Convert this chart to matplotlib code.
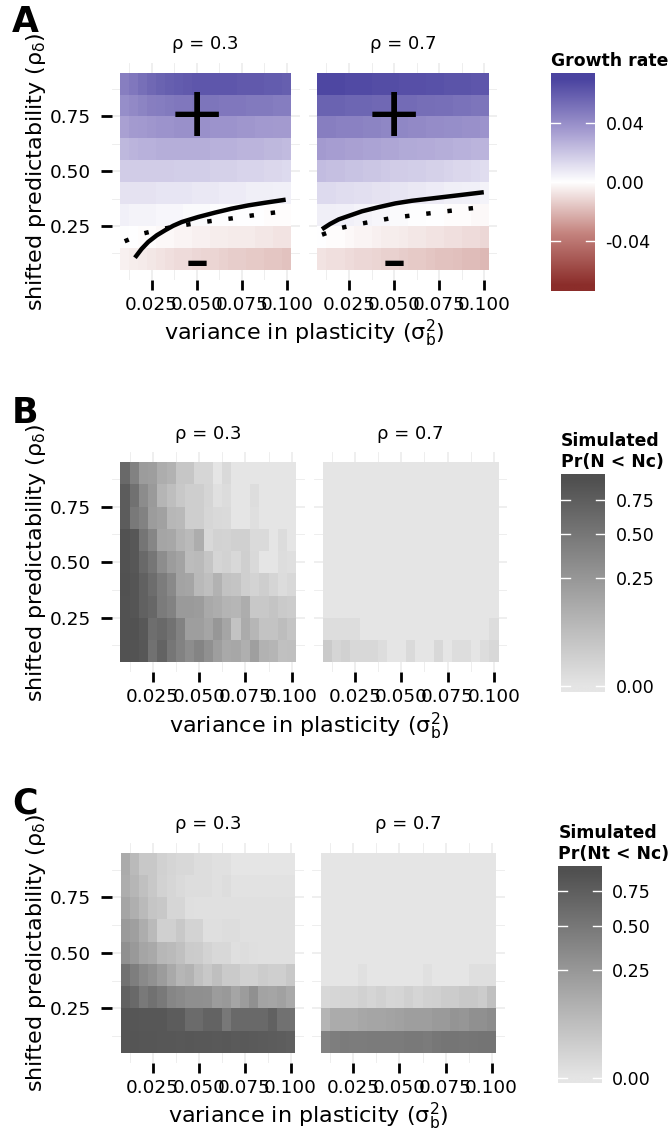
import numpy as np
import matplotlib
matplotlib.use("Agg")
import matplotlib.pyplot as plt
from matplotlib.colors import LinearSegmentedColormap, Normalize, PowerNorm

plt.rcParams["mathtext.default"] = "regular"

# grid of simulated parameters
sigma_b2 = [0.010, 0.015, 0.020, 0.025, 0.030, 0.035, 0.040, 0.045, 0.050, 0.055,
            0.060, 0.065, 0.070, 0.075, 0.080, 0.085, 0.090, 0.095, 0.100]
rho_delta = [0.1, 0.2, 0.3, 0.4, 0.5, 0.6, 0.7, 0.8, 0.9]
rho_values = [0.3, 0.7]

# growth rate, rows are rho_delta = 0.1 ... 0.9
growth_rho03 = [
    [-0.004, -0.005, -0.006, -0.007, -0.008, -0.009, -0.010, -0.010, -0.011, -0.012, -0.012, -0.013, -0.014, -0.014, -0.015, -0.015, -0.016, -0.016, -0.017],
    [0.001, 0.000, -0.001, -0.001, -0.002, -0.002, -0.003, -0.003, -0.004, -0.004, -0.005, -0.005, -0.006, -0.006, -0.006, -0.007, -0.007, -0.008, -0.008],
    [0.005, 0.004, 0.004, 0.004, 0.003, 0.003, 0.003, 0.002, 0.002, 0.002, 0.001, 0.001, 0.001, 0.000, 0.000, 0.000, -0.001, -0.001, -0.001],
    [0.010, 0.010, 0.010, 0.010, 0.009, 0.009, 0.009, 0.009, 0.008, 0.008, 0.008, 0.007, 0.007, 0.007, 0.006, 0.006, 0.006, 0.005, 0.005],
    [0.018, 0.018, 0.018, 0.018, 0.018, 0.018, 0.017, 0.017, 0.017, 0.017, 0.016, 0.016, 0.016, 0.015, 0.015, 0.015, 0.014, 0.014, 0.013],
    [0.025, 0.026, 0.027, 0.027, 0.028, 0.028, 0.028, 0.028, 0.028, 0.028, 0.027, 0.027, 0.027, 0.026, 0.026, 0.026, 0.025, 0.025, 0.024],
    [0.033, 0.035, 0.036, 0.037, 0.038, 0.038, 0.039, 0.039, 0.039, 0.039, 0.038, 0.038, 0.038, 0.037, 0.037, 0.036, 0.036, 0.035, 0.035],
    [0.040, 0.042, 0.044, 0.046, 0.047, 0.048, 0.049, 0.049, 0.050, 0.050, 0.050, 0.049, 0.049, 0.049, 0.048, 0.048, 0.048, 0.047, 0.047],
    [0.046, 0.049, 0.052, 0.055, 0.057, 0.059, 0.060, 0.061, 0.062, 0.062, 0.062, 0.062, 0.062, 0.061, 0.061, 0.061, 0.060, 0.060, 0.059],
]
growth_rho07 = [
    [-0.008, -0.009, -0.009, -0.010, -0.011, -0.011, -0.012, -0.013, -0.013, -0.014, -0.015, -0.015, -0.016, -0.017, -0.017, -0.018, -0.019, -0.019, -0.020],
    [0.000, -0.001, -0.001, -0.002, -0.003, -0.003, -0.004, -0.005, -0.005, -0.006, -0.007, -0.007, -0.008, -0.008, -0.009, -0.009, -0.010, -0.010, -0.011],
    [0.006, 0.006, 0.005, 0.005, 0.004, 0.004, 0.003, 0.003, 0.002, 0.002, 0.001, 0.001, 0.000, 0.000, -0.001, -0.001, -0.001, -0.002, -0.002],
    [0.013, 0.013, 0.012, 0.012, 0.011, 0.011, 0.010, 0.010, 0.009, 0.009, 0.008, 0.008, 0.007, 0.007, 0.006, 0.006, 0.005, 0.005, 0.004],
    [0.023, 0.022, 0.022, 0.021, 0.021, 0.020, 0.020, 0.019, 0.018, 0.018, 0.017, 0.017, 0.016, 0.016, 0.015, 0.014, 0.014, 0.013, 0.012],
    [0.035, 0.034, 0.034, 0.033, 0.033, 0.032, 0.032, 0.031, 0.031, 0.030, 0.030, 0.029, 0.029, 0.028, 0.028, 0.027, 0.027, 0.026, 0.026],
    [0.046, 0.046, 0.045, 0.045, 0.045, 0.044, 0.044, 0.043, 0.043, 0.043, 0.042, 0.042, 0.041, 0.041, 0.040, 0.040, 0.039, 0.039, 0.038],
    [0.057, 0.057, 0.057, 0.056, 0.056, 0.056, 0.055, 0.055, 0.054, 0.054, 0.054, 0.053, 0.053, 0.052, 0.052, 0.051, 0.051, 0.050, 0.050],
    [0.068, 0.068, 0.068, 0.067, 0.067, 0.067, 0.066, 0.066, 0.066, 0.065, 0.065, 0.065, 0.064, 0.064, 0.063, 0.063, 0.063, 0.062, 0.062],
]

# zero-growth boundary (solid) and its approximation (dotted)
exact_x_rho03 = [0.0157, 0.0194, 0.0231, 0.0278, 0.0324, 0.0370, 0.0417, 0.0509, 0.0602, 0.0694, 0.0787, 0.0880, 0.0994]
exact_y_rho03 = [0.105, 0.145, 0.177, 0.207, 0.230, 0.251, 0.268, 0.291, 0.311, 0.329, 0.344, 0.356, 0.370]
exact_x_rho07 = [0.0100, 0.0145, 0.0193, 0.0322, 0.0415, 0.0507, 0.0599, 0.0692, 0.0784, 0.0876, 0.0997]
exact_y_rho07 = [0.235, 0.259, 0.280, 0.317, 0.336, 0.353, 0.365, 0.374, 0.383, 0.392, 0.404]
approx_x = [0.01, 0.02, 0.03, 0.04, 0.05, 0.06, 0.07, 0.08, 0.09, 0.10]
approx_y_rho03 = [0.180, 0.215, 0.235, 0.250, 0.263, 0.275, 0.285, 0.297, 0.308, 0.318]
approx_y_rho07 = [0.210, 0.240, 0.258, 0.273, 0.288, 0.298, 0.308, 0.318, 0.328, 0.337]

# simulated Pr(N < Nc)
prN_rho03 = [
    [0.89, 0.88, 0.83, 0.56, 0.70, 0.51, 0.41, 0.32, 0.39, 0.30, 0.21, 0.15, 0.16, 0.12, 0.20, 0.11, 0.095, 0.058, 0.06],
    [0.89, 0.89, 0.82, 0.58, 0.64, 0.54, 0.41, 0.21, 0.21, 0.17, 0.255, 0.17, 0.05, 0.14, 0.09, 0.05, 0.05, 0.068, 0.047],
    [0.89, 0.86, 0.72, 0.66, 0.46, 0.41, 0.23, 0.23, 0.22, 0.15, 0.13, 0.10, 0.09, 0.13, 0.036, 0.036, 0.047, 0.031, 0.025],
    [0.91, 0.86, 0.72, 0.59, 0.45, 0.35, 0.18, 0.17, 0.08, 0.06, 0.11, 0.052, 0.047, 0.02, 0.014, 0.022, 0.011, 0.004, 0.007],
    [0.89, 0.83, 0.64, 0.51, 0.32, 0.22, 0.18, 0.07, 0.078, 0.043, 0.011, 0.015, 0.007, 0.02, 0.006, 0.0, 0.0, 0.003, 0.002],
    [0.89, 0.83, 0.52, 0.37, 0.17, 0.16, 0.10, 0.077, 0.13, 0.008, 0.016, 0.013, 0.019, 0.019, 0.005, 0.005, 0.0, 0.004, 0.0],
    [0.77, 0.48, 0.41, 0.22, 0.19, 0.088, 0.08, 0.023, 0.023, 0.009, 0.006, 0.005, 0.0, 0.0, 0.002, 0.0, 0.0, 0.0, 0.0],
    [0.77, 0.56, 0.33, 0.23, 0.096, 0.064, 0.036, 0.023, 0.022, 0.011, 0.001, 0.004, 0.0, 0.0, 0.003, 0.0, 0.0, 0.0, 0.0],
    [0.64, 0.41, 0.22, 0.21, 0.13, 0.11, 0.04, 0.04, 0.009, 0.009, 0.0, 0.006, 0.0, 0.0, 0.0, 0.0, 0.0, 0.0, 0.0],
]
prN_rho07 = [
    [0.03, 0.011, 0.017, 0.007, 0.007, 0.007, 0.003, 0.0, 0.0, 0.005, 0.0, 0.0, 0.008, 0.0, 0.003, 0.003, 0.0, 0.003, 0.007],
    [0.003, 0.003, 0.003, 0.003, 0.0, 0.0, 0.0, 0.0, 0.0, 0.0, 0.0, 0.0, 0.0, 0.0, 0.0, 0.0, 0.0, 0.0, 0.003],
    [0.0, 0.0, 0.0, 0.0, 0.0, 0.0, 0.0, 0.0, 0.0, 0.0, 0.0, 0.0, 0.0, 0.0, 0.0, 0.0, 0.0, 0.0, 0.0],
    [0.0, 0.0, 0.0, 0.0, 0.0, 0.0, 0.0, 0.0, 0.0, 0.0, 0.0, 0.0, 0.0, 0.0, 0.0, 0.0, 0.0, 0.0, 0.0],
    [0.0, 0.0, 0.0, 0.0, 0.0, 0.0, 0.0, 0.0, 0.0, 0.0, 0.0, 0.0, 0.0, 0.0, 0.0, 0.0, 0.0, 0.0, 0.0],
    [0.0, 0.0, 0.0, 0.0, 0.0, 0.0, 0.0, 0.0, 0.0, 0.0, 0.0, 0.0, 0.0, 0.0, 0.0, 0.0, 0.0, 0.0, 0.0],
    [0.0, 0.0, 0.0, 0.0, 0.0, 0.0, 0.0, 0.0, 0.0, 0.0, 0.0, 0.0, 0.0, 0.0, 0.0, 0.0, 0.0, 0.0, 0.0],
    [0.0, 0.0, 0.0, 0.0, 0.0, 0.0, 0.0, 0.0, 0.0, 0.0, 0.0, 0.0, 0.0, 0.0, 0.0, 0.0, 0.0, 0.0, 0.0],
    [0.0, 0.0, 0.0, 0.0, 0.0, 0.0, 0.0, 0.0, 0.0, 0.0, 0.0, 0.0, 0.0, 0.0, 0.0, 0.0, 0.0, 0.0, 0.0],
]

# simulated Pr(Nt < Nc)
prNt_rho03 = [
    [0.85, 0.85, 0.84, 0.84, 0.83, 0.83, 0.82, 0.83, 0.82, 0.82, 0.81, 0.82, 0.80, 0.81, 0.80, 0.79, 0.78, 0.76, 0.74],
    [0.86, 0.84, 0.83, 0.83, 0.83, 0.77, 0.77, 0.61, 0.61, 0.70, 0.70, 0.49, 0.64, 0.64, 0.64, 0.64, 0.72, 0.56, 0.56],
    [0.72, 0.64, 0.48, 0.56, 0.48, 0.37, 0.34, 0.31, 0.31, 0.30, 0.22, 0.24, 0.17, 0.22, 0.30, 0.18, 0.17, 0.19, 0.15],
    [0.56, 0.44, 0.34, 0.29, 0.22, 0.15, 0.09, 0.11, 0.056, 0.034, 0.06, 0.03, 0.03, 0.017, 0.017, 0.025, 0.02, 0.02, 0.034],
    [0.30, 0.24, 0.17, 0.15, 0.088, 0.077, 0.058, 0.028, 0.025, 0.013, 0.007, 0.007, 0.002, 0.003, 0.002, 0.001, 0.001, 0.001, 0.001],
    [0.23, 0.20, 0.13, 0.077, 0.019, 0.019, 0.034, 0.014, 0.013, 0.002, 0.002, 0.003, 0.003, 0.001, 0.001, 0.001, 0.001, 0.001, 0.001],
    [0.17, 0.12, 0.077, 0.043, 0.034, 0.01, 0.01, 0.002, 0.001, 0.001, 0.001, 0.001, 0.001, 0.001, 0.001, 0.001, 0.001, 0.001, 0.001],
    [0.13, 0.09, 0.056, 0.036, 0.015, 0.009, 0.005, 0.003, 0.003, 0.003, 0.001, 0.003, 0.0005, 0.0005, 0.0005, 0.0005, 0.0005, 0.0005, 0.0005],
    [0.14, 0.077, 0.034, 0.034, 0.017, 0.011, 0.007, 0.007, 0.003, 0.003, 0.001, 0.001, 0.0, 0.0, 0.0, 0.0, 0.0, 0.0, 0.0],
]
prNt_rho07 = [
    [0.41, 0.44, 0.46, 0.45, 0.45, 0.46, 0.47, 0.47, 0.47, 0.48, 0.48, 0.47, 0.50, 0.52, 0.52, 0.51, 0.52, 0.53, 0.53],
    [0.095, 0.14, 0.14, 0.14, 0.16, 0.17, 0.17, 0.18, 0.19, 0.21, 0.21, 0.21, 0.23, 0.23, 0.27, 0.26, 0.30, 0.30, 0.33],
    [0.007, 0.009, 0.011, 0.011, 0.017, 0.011, 0.017, 0.009, 0.011, 0.019, 0.011, 0.017, 0.019, 0.025, 0.025, 0.034, 0.034, 0.025, 0.056],
    [0.0, 0.0, 0.0, 0.0, 0.001, 0.0, 0.0, 0.0, 0.0, 0.0, 0.0, 0.001, 0.0, 0.0, 0.0, 0.0, 0.002, 0.002, 0.002],
    [0.0, 0.0, 0.0, 0.0, 0.0, 0.0, 0.0, 0.0, 0.0, 0.0, 0.0, 0.0, 0.0, 0.0, 0.0, 0.0, 0.0, 0.0, 0.0],
    [0.0, 0.0, 0.0, 0.0, 0.0, 0.0, 0.0, 0.0, 0.0, 0.0, 0.0, 0.0, 0.0, 0.0, 0.0, 0.0, 0.0, 0.0, 0.0],
    [0.0, 0.0, 0.0, 0.0, 0.0, 0.0, 0.0, 0.0, 0.0, 0.0, 0.0, 0.0, 0.0, 0.0, 0.0, 0.0, 0.0, 0.0, 0.0],
    [0.0, 0.0, 0.0, 0.0, 0.0, 0.0, 0.0, 0.0, 0.0, 0.0, 0.0, 0.0, 0.0, 0.0, 0.0, 0.0, 0.0, 0.0, 0.0],
    [0.0, 0.0, 0.0, 0.0, 0.0, 0.0, 0.0, 0.0, 0.0, 0.0, 0.0, 0.0, 0.0, 0.0, 0.0, 0.0, 0.0, 0.0, 0.0],
]

growth_ticks = [-0.04, 0.0, 0.04]
prob_ticks = [0.0, 0.25, 0.5, 0.75]

# colour scales
growth_cmap = LinearSegmentedColormap.from_list(
    "growth", [(0.0, "#8B2D2A"), (0.25, "#C4837E"), (0.5, "#FFFFFF"),
               (0.75, "#A49BD0"), (1.0, "#4A43A0")])
growth_norm = Normalize(vmin=-0.07, vmax=0.07)
grey_cmap = LinearSegmentedColormap.from_list("greys", ["#E5E5E5", "#505050"])
prob_norm = PowerNorm(gamma=0.5, vmin=0.0, vmax=0.92)

W, H = 672, 1139
fig = plt.figure(figsize=(W / 100, H / 100), dpi=100)


def px_axes(x0, x1, y0, y1):
    return fig.add_axes([x0 / W, 1 - y1 / H, (x1 - x0) / W, (y1 - y0) / H])


def heat_panel(ax, z, cmap, norm, first):
    ax.pcolormesh(sigma_b2, rho_delta, np.array(z), cmap=cmap, norm=norm,
                  shading="nearest", zorder=1)
    ax.set_xlim(0.00275, 0.10725)
    ax.set_ylim(0.005, 0.995)
    ax.set_xticks([0.025, 0.05, 0.075, 0.1])
    ax.set_xticklabels(["0.025", "0.050", "0.075", "0.100"])
    ax.set_xticks([0.0125, 0.0375, 0.0625, 0.0875], minor=True)
    ax.set_yticks([0.25, 0.5, 0.75])
    ax.set_yticklabels(["0.25", "0.50", "0.75"])
    ax.set_yticks([0.125, 0.375, 0.625, 0.875], minor=True)
    ax.set_axisbelow(True)
    ax.grid(which="major", color="#EBEBEB", lw=1.1)
    ax.grid(which="minor", color="#EBEBEB", lw=0.6)
    for s in ax.spines.values():
        s.set_visible(False)
    ax.tick_params(which="minor", length=0)
    ax.tick_params(axis="x", which="major", length=7, width=2, pad=4.5,
                   labelsize=13.3, color="black")
    if first:
        ax.tick_params(axis="y", which="major", length=8, width=2, pad=7,
                       labelsize=13.3, color="black")
    else:
        ax.tick_params(axis="y", which="major", length=0, labelleft=False)


def color_bar(cax, cmap, norm, ticks, labels):
    f = np.linspace(0, 1, 400)
    t = np.clip((f - 0.025) / 0.95, 0, 1)
    cax.imshow(t[:, None], aspect="auto", cmap=cmap, vmin=0, vmax=1,
               origin="lower", extent=[0, 1, 0, 1])
    pos = 0.025 + 0.95 * np.asarray(norm(np.array(ticks)))
    for p in pos:
        cax.plot([0, 0.2], [p, p], color="white", lw=1)
        cax.plot([0.8, 1], [p, p], color="white", lw=1)
    cax.set_xlim(0, 1)
    cax.set_ylim(0, 1)
    cax.set_xticks([])
    cax.set_yticks(pos)
    cax.set_yticklabels(labels)
    cax.yaxis.set_ticks_position("right")
    cax.tick_params(axis="y", length=0, pad=7.5, labelsize=12.6)
    for s in cax.spines.values():
        s.set_visible(False)


ylabel = r"shifted predictability ($\rho_\delta$)"
xlabel = r"variance in plasticity ($\sigma^2_b$)"

panels = [
    dict(letter="A", top=62.8, bottom=279.6, facets=[(111.6, 299.8), (308.9, 497.4)],
         data=[growth_rho03, growth_rho07], cmap=growth_cmap, norm=growth_norm,
         bar=(551, 595, 72.7, 290.7), title="Growth rate",
         ticks=growth_ticks, ticklabels=["-0.04", "0.00", "0.04"], letter_y=5),
    dict(letter="B", top=452.3, bottom=672.1, facets=[(111.5, 305.1), (313.8, 507.4)],
         data=[prN_rho03, prN_rho07], cmap=grey_cmap, norm=prob_norm,
         bar=(561, 605, 474, 691.7), title="Simulated\nPr(N < Nc)",
         ticks=prob_ticks, ticklabels=["0.00", "0.25", "0.50", "0.75"], letter_y=396),
    dict(letter="C", top=842.9, bottom=1062.7, facets=[(111.8, 304.0), (312.4, 505.0)],
         data=[prNt_rho03, prNt_rho07], cmap=grey_cmap, norm=prob_norm,
         bar=(558.3, 601.7, 866, 1083.3), title="Simulated\nPr(Nt < Nc)",
         ticks=prob_ticks, ticklabels=["0.00", "0.25", "0.50", "0.75"], letter_y=787),
]

for k, p in enumerate(panels):
    axes = []
    for j, (x0, x1) in enumerate(p["facets"]):
        ax = px_axes(x0, x1, p["top"], p["bottom"])
        heat_panel(ax, p["data"][j], p["cmap"], p["norm"], j == 0)
        fig.text((x0 + x1) / 2 / W, 1 - (p["top"] - 13.5) / H,
                 "ρ = %.1f" % rho_values[j], ha="center", va="baseline", fontsize=13)
        axes.append(ax)

    if k == 0:
        exact = [(exact_x_rho03, exact_y_rho03), (exact_x_rho07, exact_y_rho07)]
        approx = [approx_y_rho03, approx_y_rho07]
        for ax, (ex, ey), ay in zip(axes, exact, approx):
            ax.plot(ex, ey, color="black", lw=3.2, solid_capstyle="butt",
                    solid_joinstyle="round", zorder=3)
            ax.plot(approx_x, ay, color="black", lw=3.2, linestyle=(0, (1, 3.8)),
                    dash_capstyle="butt", zorder=3)
            ax.text(0.05, 0.75, "+", ha="center", va="center", fontsize=50, zorder=4)
            ax.text(0.05, 0.085, "-", ha="center", va="center", fontsize=50, zorder=4)

    mid = (p["top"] + p["bottom"]) / 2
    fig.text(36 / W, 1 - mid / H, ylabel, rotation=90, ha="center", va="center",
             fontsize=16)
    xc = (p["facets"][0][0] + p["facets"][1][1]) / 2
    fig.text(xc / W, 1 - (p["bottom"] + 61) / H, xlabel, ha="center", va="baseline",
             fontsize=16)
    fig.text(12 / W, 1 - p["letter_y"] / H, p["letter"], ha="left", va="top",
             fontsize=25, fontweight="bold")

    bx0, bx1, by0, by1 = p["bar"]
    cax = px_axes(bx0, bx1, by0, by1)
    color_bar(cax, p["cmap"], p["norm"], p["ticks"], p["ticklabels"])
    fig.text(bx0 / W, 1 - (by0 - 7) / H, p["title"], ha="left", va="baseline",
             fontsize=12.4, fontweight="bold")

fig.savefig("out.png", dpi=100)
